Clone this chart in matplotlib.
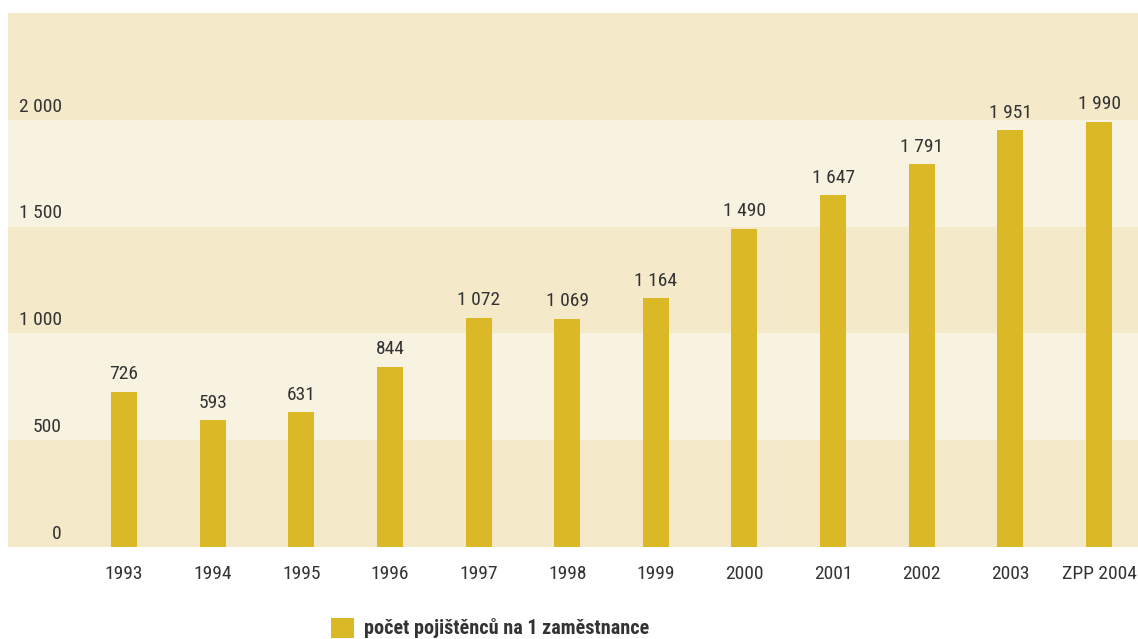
import matplotlib.pyplot as plt
import matplotlib.font_manager as fm
import numpy as np

years = ["1993", "1994", "1995", "1996", "1997", "1998", "1999",
         "2000", "2001", "2002", "2003", "ZPP 2004"]
values = [726, 593, 631, 844, 1072, 1069, 1164, 1490, 1647, 1791, 1951, 1990]
y_ticks = [0, 500, 1000, 1500, 2000]
legend_label = "počet pojištěnců na 1 zaměstnance"

# pick a narrow face if one is around
names = {f.name for f in fm.fontManager.ttflist}
stretch = "normal"
family = "DejaVu Sans"
for cand in ["Roboto Condensed", "Liberation Sans Narrow", "Open Sans Condensed"]:
    if cand in names:
        family = cand
        break
else:
    if any(f.name == "DejaVu Sans" and f.stretch == "condensed" for f in fm.fontManager.ttflist):
        stretch = "condensed"
font = [family, "DejaVu Sans"]
plt.rcParams["font.family"] = font
plt.rcParams["font.stretch"] = stretch

bar_col = "#dbb826"
dark = "#f4e9c9"
light = "#f8f2e0"
txt = "#333333"
fs = 14

fig = plt.figure(figsize=(11.38, 6.39), dpi=100)
ax = fig.add_axes([8 / 1138, 92 / 639, 1130 / 1138, 534 / 639])

# background bands
for k, lo in enumerate(range(0, 2500, 500)):
    ax.axhspan(lo, lo + 500, color=dark if k % 2 == 0 else light, zorder=0, lw=0)

x = np.arange(len(years))
bars = ax.bar(x, values, width=0.293, color=bar_col, zorder=2, label=legend_label)

for xi, v in zip(x, values):
    s = f"{v:,}".replace(",", " ")
    ax.text(xi, v + 40, s, ha="center", va="bottom", fontsize=fs, color=txt)

for t in y_ticks:
    s = f"{t:,}".replace(",", " ")
    ax.text(-0.7, t + 20, s, ha="right", va="bottom", fontsize=fs, color=txt)

ax.set_xlim(-1.309, 11.44)
ax.set_ylim(0, 2500)
ax.set_xticks(x)
ax.set_xticklabels(years, fontsize=fs, color=txt)
ax.tick_params(axis="x", length=0, pad=13)
ax.set_yticks([])
for sp in ax.spines.values():
    sp.set_visible(False)

leg = fig.legend(handles=[bars], labels=[legend_label], loc="center left",
                 bbox_to_anchor=(313 / 1138, 1 - 628 / 639), frameon=False,
                 handlelength=1.15, handleheight=1.15, handletextpad=0.5,
                 prop={"family": font, "weight": "bold", "size": 14.5, "stretch": stretch})
for t in leg.get_texts():
    t.set_color(txt)

fig.savefig("out.png", dpi=100)
